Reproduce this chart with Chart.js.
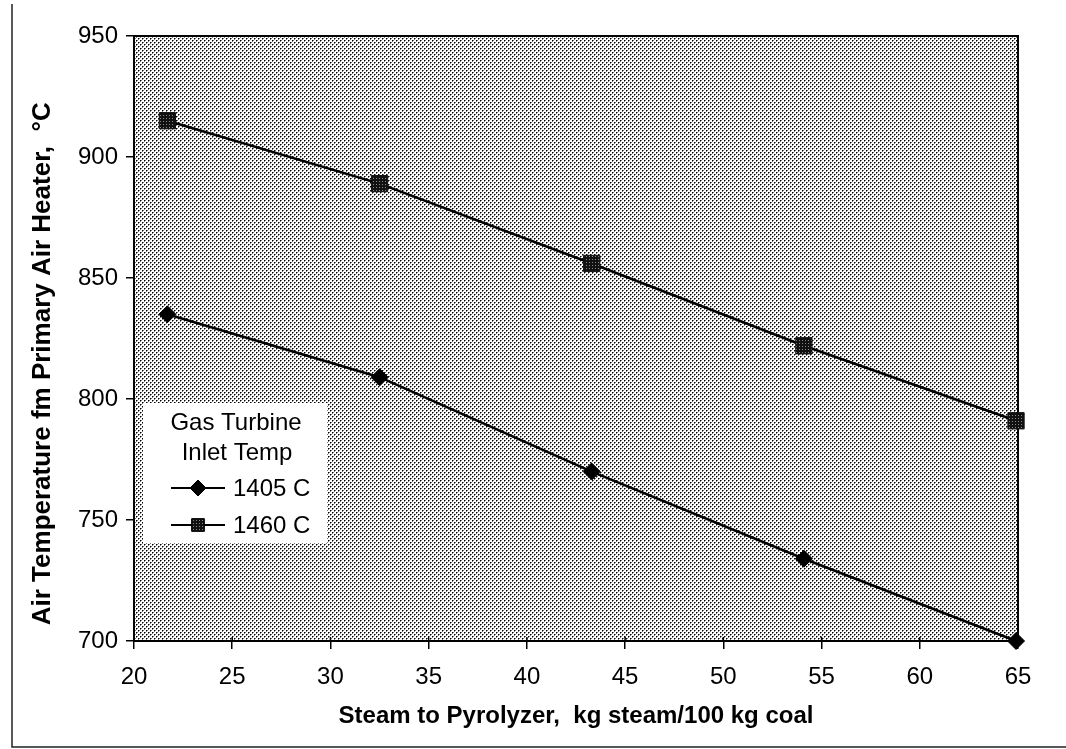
<!DOCTYPE html>
<html>
<head>
<meta charset="utf-8">
<script src="https://cdn.jsdelivr.net/npm/chart.js@4/dist/chart.umd.min.js"></script>
<style>
html,body{margin:0;padding:0;background:#fff;}
#wrap{position:relative;width:1066px;height:749px;}
</style>
</head>
<body>
<div id="wrap"><canvas id="c" width="1066" height="749"></canvas></div>
<script>
// ---- data ----
const steamX = [21.7, 32.5, 43.3, 54.1, 64.9];
const temp1405 = [835, 809, 770, 734, 700];
const temp1460 = [915, 889, 856, 822, 791];
const seriesNames = ['1405 C', '1460 C'];
const legendTitle = ['Gas Turbine', 'Inlet Temp'];
const xTitle = 'Steam to Pyrolyzer,  kg steam/100 kg coal';
const yTitle = 'Air Temperature fm Primary Air Heater,  \u00B0C';

const FONT = "'Liberation Sans', Arial, sans-serif";

function makeTile(size, pixels, bg) {
  const t = document.createElement('canvas');
  t.width = size; t.height = size;
  const g = t.getContext('2d');
  g.fillStyle = bg; g.fillRect(0, 0, size, size);
  pixels.forEach(p => { g.fillStyle = p[2]; g.fillRect(p[0], p[1], 1, 1); });
  return t;
}
const ctx = document.getElementById('c').getContext('2d');
const bgPattern = ctx.createPattern(makeTile(4, [
  [0,0,'#000'],[2,2,'#000'],[1,0,'#777'],[0,1,'#777'],[3,2,'#777'],[2,3,'#777']
], '#fff'), 'repeat');
const sqPattern = ctx.createPattern(makeTile(3, [
  [1,1,'#888']
], '#111'), 'repeat');

const bgPlugin = {
  id: 'bg',
  beforeDraw(chart) {
    const {ctx, chartArea: a} = chart;
    ctx.save();
    ctx.strokeStyle = '#222';
    ctx.lineWidth = 1.5;
    ctx.beginPath();
    ctx.moveTo(12, 4); ctx.lineTo(12, 747); ctx.lineTo(1066, 747);
    ctx.stroke();
    ctx.fillStyle = bgPattern;
    ctx.fillRect(a.left, a.top, a.right - a.left, a.bottom - a.top);
    ctx.restore();
  },
  beforeDatasetsDraw(chart) {
    const {ctx, chartArea: a, scales} = chart;
    ctx.save();
    ctx.strokeStyle = '#000';
    ctx.lineWidth = 2;
    ctx.strokeRect(a.left, a.top, a.right - a.left, a.bottom - a.top);
    ctx.lineWidth = 1.5;
    scales.x.ticks.forEach(t => {
      const px = scales.x.getPixelForValue(t.value);
      ctx.beginPath(); ctx.moveTo(px, a.bottom - 4); ctx.lineTo(px, a.bottom); ctx.stroke();
    });
    ctx.restore();
  },
  afterDraw(chart) {
    const {ctx, chartArea: a} = chart;
    const ds = chart.data.datasets;
    ctx.save();
    const bx = a.left + 9, by = a.top + 367, bw = 184, bh = 140;
    ctx.fillStyle = '#fff';
    ctx.fillRect(bx, by, bw, bh);
    ctx.fillStyle = '#000';
    ctx.font = '24px ' + FONT;
    ctx.textAlign = 'center';
    ctx.textBaseline = 'middle';
    ctx.fillText(legendTitle[0], bx + 93, by + 20);
    ctx.fillText(legendTitle[1], bx + 94, by + 50);
    ctx.textAlign = 'left';
    [0, 1].forEach(i => {
      const y = by + 85 + i * 37;
      ctx.strokeStyle = '#000';
      ctx.lineWidth = 2;
      ctx.beginPath(); ctx.moveTo(bx + 28, y); ctx.lineTo(bx + 82, y); ctx.stroke();
      const d = ds[i];
      ctx.fillStyle = d.pointBackgroundColor;
      ctx.strokeStyle = '#000';
      ctx.lineWidth = 1;
      const r = i === 0 ? 8 : 9;
      Chart.helpers.drawPoint(ctx, {pointStyle: d.pointStyle, radius: r, rotation: 0, borderWidth: 1}, bx + 55, y);
      ctx.fillStyle = '#000';
      ctx.fillText(seriesNames[i], bx + 90, y + 1);
    });
    ctx.restore();
  }
};

new Chart(ctx, {
  type: 'line',
  data: {
    datasets: [
      {
        label: seriesNames[0],
        data: steamX.map((x, i) => ({x, y: temp1405[i]})),
        borderColor: '#000', borderWidth: 2.5,
        pointStyle: 'rectRot', pointRadius: 8.5, pointHoverRadius: 8.5,
        pointBackgroundColor: '#000', pointBorderColor: '#000', pointBorderWidth: 1,
        tension: 0, fill: false, clip: false
      },
      {
        label: seriesNames[1],
        data: steamX.map((x, i) => ({x, y: temp1460[i]})),
        borderColor: '#000', borderWidth: 2.5,
        pointStyle: 'rect', pointRadius: 11.5, pointHoverRadius: 11.5,
        pointBackgroundColor: sqPattern, pointBorderColor: '#111', pointBorderWidth: 1,
        tension: 0, fill: false, clip: false
      }
    ]
  },
  options: {
    responsive: false,
    animation: false,
    events: [],
    layout: {padding: {top: 36, right: 48, left: 0, bottom: 0}},
    plugins: {legend: {display: false}, tooltip: {enabled: false}},
    scales: {
      x: {
        type: 'linear', min: 20, max: 65,
        afterFit(s) { s.height = 108; },
        ticks: {stepSize: 5, color: '#000', font: {family: FONT, size: 24}, padding: 14, maxRotation: 0},
        grid: {drawOnChartArea: false, color: '#000', lineWidth: 1.5, tickLength: 8},
        border: {display: false},
        title: {display: true, text: xTitle, color: '#000', font: {family: FONT, size: 24, weight: 'bold'}, padding: {top: 0, bottom: 18}}
      },
      y: {
        type: 'linear', min: 700, max: 950,
        afterFit(s) { s.width = 134; },
        ticks: {stepSize: 50, color: '#000', font: {family: FONT, size: 24}, padding: 8},
        grid: {drawOnChartArea: false, color: '#000', lineWidth: 1.5, tickLength: 8},
        border: {display: false},
        title: {display: true, text: yTitle + '       ', color: '#000', font: {family: FONT, size: 26, weight: 'bold'}, padding: {top: 27, bottom: 0}}
      }
    }
  },
  plugins: [bgPlugin]
});
</script>
</body>
</html>
